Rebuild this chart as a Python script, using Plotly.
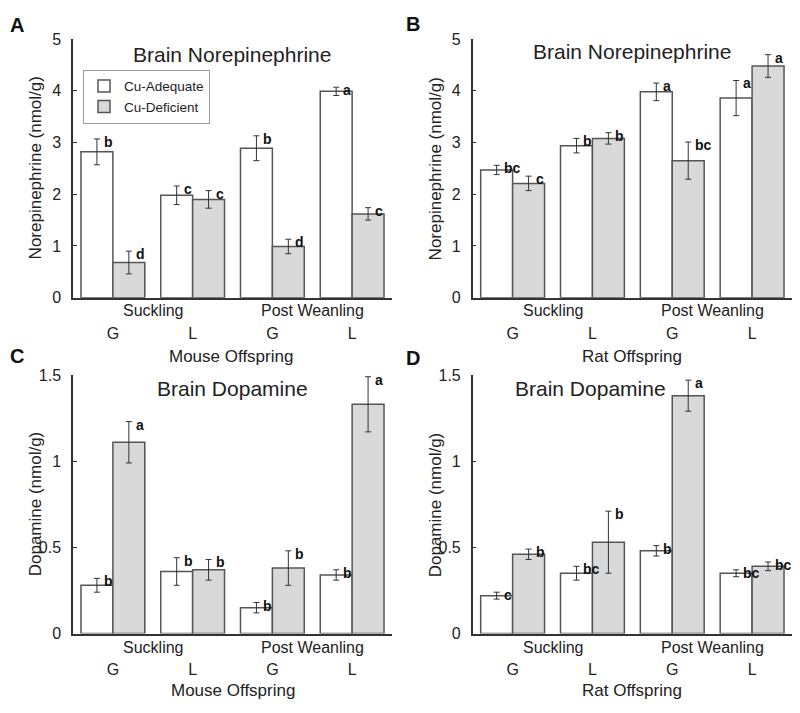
import plotly.graph_objects as go

# ---------------- data ----------------
groups = [0, 1, 2, 3]
tick_text = ["G", "L", "G", "L"]
stage_labels = ["Suckling", "Post Weanling"]
stage_pos = [0.5, 2.5]

# Panel A: mouse norepinephrine
a_adeq = [2.82, 1.98, 2.89, 3.99]
a_adeq_err = [0.25, 0.18, 0.24, 0.08]
a_def = [0.68, 1.90, 0.99, 1.62]
a_def_err = [0.22, 0.17, 0.14, 0.12]
a_adeq_sig = ["b", "c", "b", "a"]
a_def_sig = ["d", "c", "d", "c"]

# Panel B: rat norepinephrine
b_adeq = [2.47, 2.94, 3.98, 3.86]
b_adeq_err = [0.09, 0.14, 0.17, 0.34]
b_def = [2.21, 3.08, 2.65, 4.48]
b_def_err = [0.14, 0.11, 0.36, 0.22]
b_adeq_sig = ["bc", "b", "a", "a"]
b_def_sig = ["c", "b", "bc", "a"]

# Panel C: mouse dopamine
c_adeq = [0.28, 0.36, 0.15, 0.34]
c_adeq_err = [0.04, 0.08, 0.03, 0.03]
c_def = [1.11, 0.37, 0.38, 1.33]
c_def_err = [0.12, 0.06, 0.10, 0.16]
c_adeq_sig = ["b", "b", "b", "b"]
c_def_sig = ["a", "b", "b", "a"]

# Panel D: rat dopamine
d_adeq = [0.22, 0.35, 0.48, 0.35]
d_adeq_err = [0.02, 0.04, 0.03, 0.02]
d_def = [0.46, 0.53, 1.38, 0.39]
d_def_err = [0.03, 0.18, 0.09, 0.025]
d_adeq_sig = ["c", "bc", "b", "bc"]
d_def_sig = ["b", "b", "a", "bc"]

ne_ticks = [0, 1, 2, 3, 4, 5]
da_ticks = [0, 0.5, 1, 1.5]
da_ticktext = ["0", "0.5", "1", "1.5"]

panels = [
    dict(key="", letter="A", title="Brain Norepinephrine", ylabel="Norepinephrine (nmol/g)",
         xlabel="Mouse Offspring", adeq=a_adeq, adeq_err=a_adeq_err, dfc=a_def, dfc_err=a_def_err,
         sa=a_adeq_sig, sd=a_def_sig, yr=[0, 5], tv=ne_ticks, tt=[str(t) for t in ne_ticks]),
    dict(key="2", letter="B", title="Brain Norepinephrine", ylabel="Norepinephrine (nmol/g)",
         xlabel="Rat Offspring", adeq=b_adeq, adeq_err=b_adeq_err, dfc=b_def, dfc_err=b_def_err,
         sa=b_adeq_sig, sd=b_def_sig, yr=[0, 5], tv=ne_ticks, tt=[str(t) for t in ne_ticks]),
    dict(key="3", letter="C", title="Brain Dopamine", ylabel="Dopamine (nmol/g)",
         xlabel="Mouse Offspring", adeq=c_adeq, adeq_err=c_adeq_err, dfc=c_def, dfc_err=c_def_err,
         sa=c_adeq_sig, sd=c_def_sig, yr=[0, 1.5], tv=da_ticks, tt=da_ticktext),
    dict(key="4", letter="D", title="Brain Dopamine", ylabel="Dopamine (nmol/g)",
         xlabel="Rat Offspring", adeq=d_adeq, adeq_err=d_adeq_err, dfc=d_def, dfc_err=d_def_err,
         sa=d_adeq_sig, sd=d_def_sig, yr=[0, 1.5], tv=da_ticks, tt=da_ticktext),
]

# ---------------- layout geometry ----------------
# page body has an 8px margin; the figure is sized to fit the 800x713 window
OFF = 8
W, H = 800 - 2 * OFF, 713 - 2 * OFF
FONT = "Arial, Liberation Sans, Helvetica, sans-serif"


def px(x):
    return (x - OFF) / W


def py(y):
    return 1 - (y - OFF) / H


x_domains = [[px(73), px(392)], [px(472.7), px(792)], [px(73), px(392)], [px(472.7), px(792)]]
y_domains = [[py(296.7), py(31.7)], [py(296.7), py(31.7)], [py(641), py(376)], [py(641), py(376)]]
title_pos = [(232, 47), (632, 44), (232, 390), (590, 390)]
letter_pos = [(17, 17), (413, 16), (17, 357), (413, 359)]
ylabel_x = [35, 435, 35, 435]
stage_y = [310, 310, 655, 655]
xlabel_pos = [(231, 357), (632, 357), (233, 699), (632, 699)]

fig = go.Figure()
annotations = []
line_col = "#555555"
err_col = "#333333"
sig_font = dict(size=14, color="#111", family=FONT)

for i, p in enumerate(panels):
    k = p["key"]
    xa, ya = "x" + k, "y" + k
    first = (i == 0)
    fig.add_trace(go.Bar(
        x=groups, y=p["adeq"], name="Cu-Adequate", xaxis=xa, yaxis=ya,
        offsetgroup="adeq", legendgroup="adeq", showlegend=first,
        marker=dict(color="white", line=dict(color=line_col, width=1.5)),
        error_y=dict(type="data", array=p["adeq_err"], color=err_col, thickness=1, width=3),
    ))
    fig.add_trace(go.Bar(
        x=groups, y=p["dfc"], name="Cu-Deficient", xaxis=xa, yaxis=ya,
        offsetgroup="def", legendgroup="def", showlegend=first,
        marker=dict(color="#d9d9d9", line=dict(color=line_col, width=1.5)),
        error_y=dict(type="data", array=p["dfc_err"], color=err_col, thickness=1, width=3),
    ))
    # significance letters
    for g, v, e, s in zip(groups, p["adeq"], p["adeq_err"], p["sa"]):
        annotations.append(dict(x=g - 0.2, y=v + e, xref=xa, yref=ya, text="<b>%s</b>" % s,
                                showarrow=False, xanchor="left", yanchor="middle", xshift=5, yshift=-3,
                                font=sig_font))
    for g, v, e, s in zip(groups, p["dfc"], p["dfc_err"], p["sd"]):
        annotations.append(dict(x=g + 0.2, y=v + e, xref=xa, yref=ya, text="<b>%s</b>" % s,
                                showarrow=False, xanchor="left", yanchor="middle", xshift=5, yshift=-3,
                                font=sig_font))
    # stage labels
    for sx, st in zip(stage_pos, stage_labels):
        annotations.append(dict(x=sx, y=py(stage_y[i]), xref=xa, yref="paper", text=st,
                                showarrow=False, xanchor="center", yanchor="middle",
                                font=dict(size=16, color="#222", family=FONT)))
    # titles, letters, axis labels
    tx, ty = title_pos[i]
    annotations.append(dict(x=px(tx), y=py(ty), xref="paper", yref="paper", text=p["title"],
                            showarrow=False, xanchor="center", yanchor="middle",
                            font=dict(size=21, color="#222", family=FONT)))
    lx, ly = letter_pos[i]
    annotations.append(dict(x=px(lx), y=py(ly), xref="paper", yref="paper",
                            text="<b>%s</b>" % p["letter"], showarrow=False,
                            xanchor="center", yanchor="middle",
                            font=dict(size=20, color="#111", family=FONT)))
    yd = y_domains[i]
    annotations.append(dict(x=px(ylabel_x[i]), y=(yd[0] + yd[1]) / 2, xref="paper", yref="paper",
                            text=p["ylabel"], textangle=-90, showarrow=False,
                            xanchor="center", yanchor="middle",
                            font=dict(size=17, color="#222", family=FONT)))
    bx, by = xlabel_pos[i]
    annotations.append(dict(x=px(bx), y=py(by), xref="paper", yref="paper", text=p["xlabel"],
                            showarrow=False, xanchor="center", yanchor="middle",
                            font=dict(size=17, color="#222", family=FONT)))

layout = dict(
    width=W, height=H, margin=dict(l=0, r=0, t=0, b=0),
    paper_bgcolor="white", plot_bgcolor="white",
    barmode="group", bargap=0.2, bargroupgap=0,
    font=dict(family=FONT, color="#222"),
    annotations=annotations,
    legend=dict(x=px(83), y=py(63), xanchor="left", yanchor="top",
                bordercolor="#999999", borderwidth=1, bgcolor="white",
                font=dict(size=13.5, color="#222", family=FONT),
                itemwidth=30, tracegroupgap=0),
)
for i, p in enumerate(panels):
    k = p["key"]
    layout["xaxis" + k] = dict(domain=x_domains[i], anchor="y" + k, range=[-0.5, 3.5],
                               tickvals=groups, ticktext=tick_text, ticks="",
                               showline=True, linecolor="#333", linewidth=1.5,
                               showgrid=False, zeroline=False, ticklabelstandoff=20,
                               tickfont=dict(size=16, color="#222", family=FONT), fixedrange=True)
    layout["yaxis" + k] = dict(domain=y_domains[i], anchor="x" + k, range=p["yr"],
                               tickvals=p["tv"], ticktext=p["tt"], ticks="inside", ticklen=4,
                               tickcolor="#333", showline=True, linecolor="#333", linewidth=1.5,
                               showgrid=False, zeroline=False, ticklabelstandoff=7,
                               tickfont=dict(size=16, color="#222", family=FONT), fixedrange=True)

fig.update_layout(**layout)
fig.write_html("out.html")
